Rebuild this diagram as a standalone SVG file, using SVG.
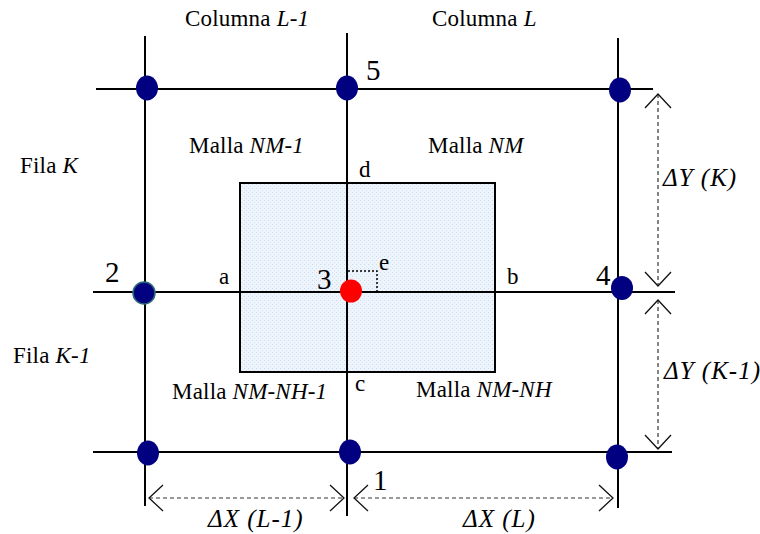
<svg xmlns="http://www.w3.org/2000/svg" width="760" height="534" viewBox="0 0 760 534">
<style>
text{font-family:"Liberation Serif","Times New Roman",serif;fill:#000}
.lbl{font-size:23px;letter-spacing:0.2px}
.num{font-size:29px}
.let{font-size:23px}
.dim{font-size:25px;font-style:italic;letter-spacing:1px}
.grid{stroke:#000;stroke-width:2;fill:none}
.dimline{stroke:#333;stroke-width:1.2;stroke-dasharray:4 3;fill:none}
.node{fill:#000080}
</style>
<defs>
<pattern id="dots" width="4" height="4" patternUnits="userSpaceOnUse">
<rect width="4" height="4" fill="#eef4fc"/>
<rect width="1" height="1" fill="#c9daf1"/>
<rect x="2" y="2" width="1" height="1" fill="#d6e3f5"/>
</pattern>
<marker id="oa" viewBox="-15 -15 17 30" markerWidth="17" markerHeight="30" refX="0" refY="0" orient="auto-start-reverse" markerUnits="userSpaceOnUse">
<path d="M-14,-13 L0,0 L-14,13" fill="none" stroke="#111" stroke-width="1.3"/>
</marker>
</defs>

<g id="mesh-cell">
<rect x="240" y="183" width="255" height="189" fill="url(#dots)" stroke="#000" stroke-width="2"/>
</g>

<g id="connectors">
<line class="grid" x1="96" y1="89" x2="653" y2="89"/>
<line class="grid" x1="93" y1="292" x2="675" y2="292"/>
<line class="grid" x1="93" y1="452" x2="672" y2="452"/>
<line class="grid" x1="145" y1="36" x2="145" y2="506"/>
<line class="grid" x1="347" y1="33" x2="347" y2="516"/>
<line class="grid" x1="618" y1="38" x2="618" y2="508"/>
<path d="M348,271 H377 V292" fill="none" stroke="#000" stroke-width="1.5" stroke-dasharray="2 2"/>
<line class="dimline" x1="658" y1="94" x2="658" y2="286" marker-start="url(#oa)" marker-end="url(#oa)"/>
<line class="dimline" x1="658" y1="300" x2="658" y2="449" marker-start="url(#oa)" marker-end="url(#oa)"/>
<line class="dimline" x1="149" y1="498" x2="344" y2="498" marker-start="url(#oa)" marker-end="url(#oa)"/>
<line class="dimline" x1="354" y1="498" x2="613" y2="498" marker-start="url(#oa)" marker-end="url(#oa)"/>
</g>

<g id="node-tl"><ellipse class="node" cx="147" cy="88" rx="11" ry="12.5"/></g>
<g id="node-5"><ellipse class="node" cx="347" cy="88" rx="11" ry="12.5"/></g>
<g id="node-tr"><ellipse class="node" cx="620" cy="90" rx="11" ry="12.5"/></g>
<g id="node-2"><ellipse class="node" cx="144" cy="293" rx="11" ry="11" stroke="#2e6b78" stroke-width="1.5"/></g>
<g id="node-4"><ellipse class="node" cx="622" cy="288" rx="11" ry="12"/></g>
<g id="node-bl"><ellipse class="node" cx="148" cy="453" rx="11" ry="12.5"/></g>
<g id="node-1"><ellipse class="node" cx="350" cy="452" rx="11" ry="12.5"/></g>
<g id="node-br"><ellipse class="node" cx="617" cy="457" rx="11" ry="12.5"/></g>
<g id="node-3"><ellipse cx="351" cy="291" rx="11" ry="11.5" fill="#ff0000"/></g>

<g id="labels">
<text class="lbl" x="185" y="26">Columna <tspan font-style="italic">L-1</tspan></text>
<text class="lbl" x="432" y="26">Columna <tspan font-style="italic">L</tspan></text>
<text class="lbl" x="20" y="173">Fila <tspan font-style="italic">K</tspan></text>
<text class="lbl" x="13" y="363">Fila <tspan font-style="italic">K-1</tspan></text>
<text class="lbl" x="189" y="153">Malla <tspan font-style="italic">NM-1</tspan></text>
<text class="lbl" x="428" y="153">Malla <tspan font-style="italic">NM</tspan></text>
<text class="lbl" x="172" y="399">Malla <tspan font-style="italic">NM-NH-1</tspan></text>
<text class="lbl" x="416" y="397">Malla <tspan font-style="italic">NM-NH</tspan></text>
<text class="num" x="366" y="80">5</text>
<text class="num" x="105" y="282">2</text>
<text class="num" x="317" y="289">3</text>
<text class="num" x="596" y="285">4</text>
<text class="num" x="373" y="490">1</text>
<text class="let" x="219" y="284">a</text>
<text class="let" x="507" y="284">b</text>
<text class="let" x="355" y="391">c</text>
<text class="let" x="359" y="177">d</text>
<text class="let" x="379" y="270">e</text>
<text class="dim" x="663" y="186">ΔY (K)</text>
<text class="dim" x="664" y="379" letter-spacing="0">ΔY (K-1)</text>
<text class="dim" x="208" y="527">ΔX (L-1)</text>
<text class="dim" x="463" y="527">ΔX (L)</text>
</g>
</svg>
